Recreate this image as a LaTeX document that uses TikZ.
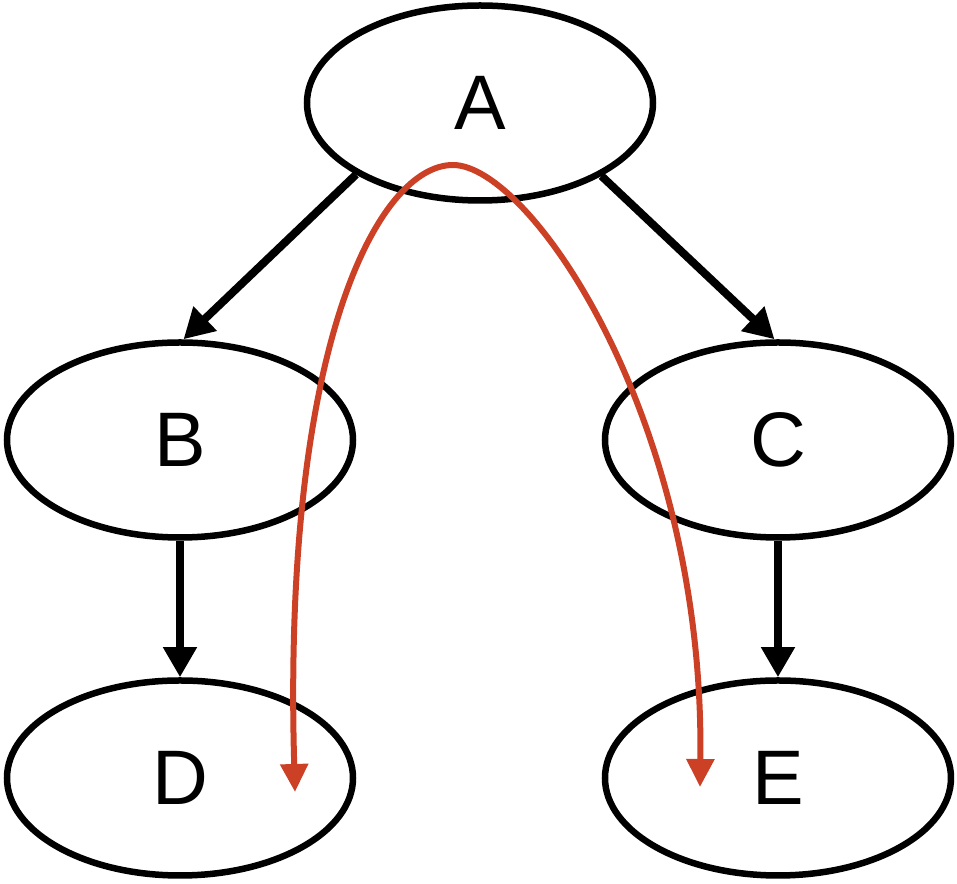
\documentclass[tikz,border=0pt]{standalone}
\usepackage{fontspec}
\setmainfont{Liberation Sans}
\usetikzlibrary{positioning,shapes.geometric,arrows.meta}

\definecolor{pathred}{HTML}{CC4125}

\begin{document}
\begin{tikzpicture}[
    vertex/.style={draw,ellipse,line width=0.065cm,minimum width=3.46cm,minimum height=1.95cm,inner sep=0pt,font=\fontsize{22}{26}\selectfont},
    edge/.style={line width=0.08cm,-{Triangle[length=0.3cm,width=0.32cm]}},
    walk/.style={pathred,line width=0.06cm,{Triangle[length=0.28cm,width=0.27cm]}-{Triangle[length=0.28cm,width=0.27cm]}}
  ]
  \useasboundingbox (0,0) rectangle (9.57,-8.84);
  \node[vertex] (a) at (4.80,-1.03) {A};
  \node[vertex] (b) at (1.80,-4.40) {B};
  \node[vertex] (c) at (7.78,-4.40) {C};
  \node[vertex] (d) at (1.80,-7.78) {D};
  \node[vertex] (e) at (7.78,-7.78) {E};
  \draw[edge] (a.210) -- (b.88);
  \draw[edge] (a.329) -- (c.92);
  \draw[edge] (b.south) -- (d.north);
  \draw[edge] (c.south) -- (e.north);
  % red walk through the tree
  \coordinate (dend) at (2.95,-7.92);
  \coordinate (top) at (4.53,-1.65);
  \coordinate (eend) at (7.00,-7.87);
  \draw[walk] (dend) .. controls (2.82,-3.40) and (3.80,-1.65) .. (top)
    .. controls (5.30,-1.65) and (7.05,-4.20) .. (eend);
\end{tikzpicture}
\end{document}
